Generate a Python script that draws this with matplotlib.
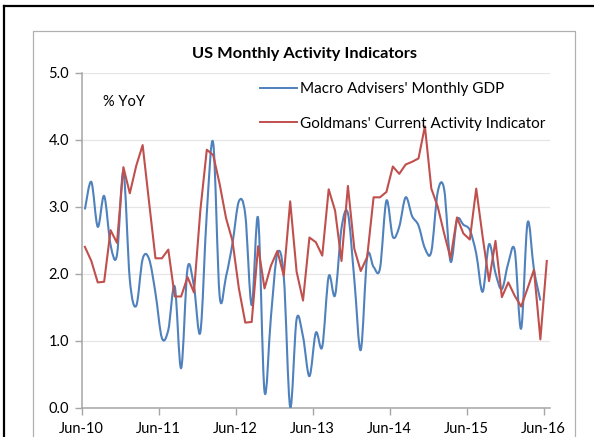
import numpy as np
import matplotlib
matplotlib.use("Agg")
import matplotlib.pyplot as plt
from matplotlib.path import Path
from matplotlib.patches import PathPatch
from matplotlib.lines import Line2D

# Monthly readings, Jun-10 onwards (% YoY)
gdp_macro_advisers = [
    2.96, 3.37, 2.70, 3.16, 2.43, 2.28, 3.52, 1.91, 1.52, 2.22, 2.22, 1.71,
    1.04, 1.16, 1.81, 0.59, 2.08, 1.81, 1.13, 2.90, 3.95, 1.67, 1.96, 2.45,
    3.08, 2.88, 1.53, 2.83, 0.24, 1.36, 2.30, 1.96, 0.01, 1.32, 1.06, 0.47,
    1.12, 0.91, 1.96, 1.68, 2.68, 2.90, 1.91, 0.86, 2.25, 2.10, 2.08, 3.09,
    2.55, 2.70, 3.14, 2.86, 2.72, 2.38, 2.33, 3.22, 3.26, 2.18, 2.80, 2.73,
    2.65, 2.30, 1.73, 2.44, 2.01, 1.77, 2.16, 2.35, 1.18, 2.76, 2.06, 1.60,
]
goldman_cai = [
    2.40, 2.19, 1.87, 1.88, 2.65, 2.46, 3.59, 3.20, 3.61, 3.92, 3.07, 2.23,
    2.23, 2.36, 1.66, 1.66, 1.95, 1.72, 2.95, 3.85, 3.77, 3.34, 2.83, 2.49,
    1.78, 1.27, 1.28, 2.41, 1.78, 2.12, 2.34, 1.97, 3.08, 2.03, 1.60, 2.54,
    2.47, 2.27, 3.26, 2.94, 2.19, 3.31, 2.37, 2.04, 2.25, 3.14, 3.14, 3.22,
    3.60, 3.49, 3.63, 3.67, 3.72, 4.20, 3.27, 3.00, 2.60, 2.23, 2.84, 2.60,
    2.51, 3.27, 2.55, 1.89, 2.49, 1.65, 1.87, 1.67, 1.51, 1.78, 2.06, 1.02,
    2.19,
]
tick_labels = ["Jun-10", "Jun-11", "Jun-12", "Jun-13", "Jun-14", "Jun-15", "Jun-16"]
y_ticks = [0.0, 1.0, 2.0, 3.0, 4.0, 5.0]

BLUE = "#4F81BD"
RED = "#C0504D"
W, H = 594, 437

plt.rcParams["font.family"] = ["Lato", "DejaVu Sans"]


def smooth_path(x, y):
    """Excel-style smoothed line: Catmull-Rom through the points as cubic Beziers."""
    pts = np.column_stack([x, y])
    p = np.vstack([pts[0], pts, pts[-1]])
    verts = [pts[0]]
    codes = [Path.MOVETO]
    for i in range(1, len(p) - 2):
        p0, p1, p2, p3 = p[i - 1], p[i], p[i + 1], p[i + 2]
        verts += [p1 + (p2 - p0) / 6.0, p2 - (p3 - p1) / 6.0, p2]
        codes += [Path.CURVE4] * 3
    return Path(verts, codes)


def fx(px):
    return px / W


def fy(py):
    return 1 - py / H


fig = plt.figure(figsize=(W / 100, H / 100), dpi=100)

# frames: outer black and inner grey chart border
fig.add_artist(Line2D([fx(4), fx(4)], [fy(6), 0], color="black", lw=1.6))
fig.add_artist(Line2D([fx(4), 1], [fy(6), fy(6)], color="black", lw=1.6))
fig.add_artist(Line2D([fx(33), fx(33), fx(575), fx(575)],
                      [0, fy(31), fy(31), 0], color="#B0B0B0", lw=0.9))

left, right, top, bottom = 81.7, 550.0, 72.7, 407.7
ax = fig.add_axes([fx(left), fy(bottom), fx(right - left), (bottom - top) / H])

x_gdp = np.arange(len(gdp_macro_advisers)) + 0.5
x_cai = np.arange(len(goldman_cai)) + 0.5

ax.add_patch(PathPatch(smooth_path(x_gdp, gdp_macro_advisers), fill=False,
                       edgecolor=BLUE, lw=1.5, joinstyle="round", zorder=3))
ax.plot(x_cai, goldman_cai, color=RED, lw=1.5, zorder=3)

ax.set_xlim(0, 73)
ax.set_ylim(0, 5)
ax.set_xticks(np.arange(len(tick_labels)) * 12)
ax.set_xticklabels(tick_labels)
ax.set_yticks(y_ticks)
ax.set_yticklabels([f"{v:.1f}" for v in y_ticks])
ax.grid(axis="y", color="#E6E6E6", lw=0.9)
ax.set_axisbelow(True)
for s in ("top", "right"):
    ax.spines[s].set_visible(False)
for s in ("left", "bottom"):
    ax.spines[s].set_color("#A6A6A6")
    ax.spines[s].set_linewidth(1.1)
ax.tick_params(axis="both", colors="#A6A6A6", length=5, width=1.0,
               labelcolor="black", labelsize=10.5)
ax.tick_params(axis="y", pad=4)
ax.tick_params(axis="x", pad=5)

fig.text(fx(304), fy(54), "US Monthly Activity Indicators", ha="center",
         va="center", fontsize=11.8, fontweight="bold")
fig.text(fx(103), fy(102), "% YoY", ha="left", va="center", fontsize=10.5)

handles = [Line2D([], [], color=BLUE, lw=1.4), Line2D([], [], color=RED, lw=1.4)]
fig.legend(handles, ["Macro Advisers' Monthly GDP",
                     "Goldmans' Current Activity Indicator"],
           loc="upper left", bbox_to_anchor=(fx(260), fy(82)),
           bbox_transform=fig.transFigure, frameon=False, fontsize=11,
           borderpad=0, borderaxespad=0, handlelength=2.4, handletextpad=0.2,
           labelspacing=1.35)

fig.savefig("out.png", dpi=100)
